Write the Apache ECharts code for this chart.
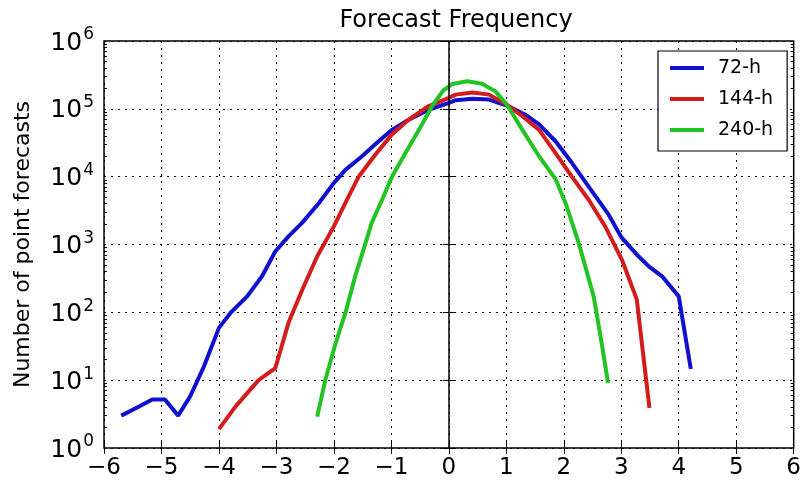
<!DOCTYPE html>
<html>
<head>
<meta charset="utf-8">
<script src="https://cdn.jsdelivr.net/npm/echarts@6/dist/echarts.min.js"></script>
<style>
  html, body { margin: 0; padding: 0; background: #fff; }
  #chart { width: 804px; height: 483px; }
</style>
</head>
<body>
<div id="chart"></div>
<script>
// forecast error bins (x) and counts (y)
const x72 = [-5.70, -5.39, -5.16, -4.94, -4.71, -4.50, -4.26, -4.0, -3.80, -3.51, -3.25, -3.02, -2.79, -2.55, -2.26, -2.0, -1.80, -1.51, -1.28, -0.99, -0.70, -0.35, 0.0, 0.12, 0.41, 0.70, 1.01, 1.33, 1.57, 1.86, 2.14, 2.43, 2.78, 3.01, 3.30, 3.48, 3.71, 4.0, 4.21];
const y72 = [3.0, 4.1, 5.2, 5.2, 3.0, 5.8, 16, 59, 98, 172, 340, 790, 1320, 2100, 4100, 8100, 12600, 20000, 30000, 49000, 69000, 97000, 122000, 134000, 141000, 137000, 112000, 82000, 59000, 33000, 16000, 7200, 2750, 1250, 670, 475, 340, 172, 14.6];

const x144 = [-4.0, -3.71, -3.31, -3.02, -2.79, -2.55, -2.29, -2.0, -1.80, -1.57, -1.28, -0.99, -0.70, -0.35, 0.0, 0.12, 0.41, 0.70, 1.01, 1.28, 1.57, 1.86, 2.14, 2.43, 2.72, 3.01, 3.27, 3.49];
const y144 = [1.9, 4.1, 10, 15, 70, 215, 670, 1850, 4100, 10000, 21000, 42000, 69000, 110000, 145000, 162000, 174000, 162000, 115000, 78000, 49000, 22000, 10000, 4600, 1850, 600, 155, 3.9];

const x240 = [-2.29, -2.15, -1.97, -1.80, -1.63, -1.45, -1.34, -1.16, -0.99, -0.76, -0.52, -0.29, -0.10, 0.06, 0.32, 0.58, 0.81, 1.01, 1.28, 1.57, 1.86, 2.03, 2.26, 2.52, 2.67, 2.77];
const y240 = [2.9, 10, 35, 98, 340, 1050, 2100, 4600, 10000, 22000, 49000, 110000, 185000, 233000, 255000, 235000, 181000, 115000, 49000, 20000, 9100, 4100, 1050, 172, 31, 9.1];

const names = ['72-h', '144-h', '240-h'];
const colors = ['#1010d0', '#d41c1c', '#22c322'];

// log-scale minor tick positions (in decades), like matplotlib's 2..9 subticks
const minorTicks = [];
for (let d = 0; d < 6; d++) {
  for (let k = 2; k <= 9; k++) minorTicks.push(d + Math.log10(k));
}

const pairs = (xs, ys) => xs.map((v, i) => [v, ys[i]]);

const chart = echarts.init(document.getElementById('chart'));
const font = 'DejaVu Sans';

const minorAxis = (pos) => ({
  type: 'value', min: 0, max: 6, position: pos,
  axisLine: { show: false },
  axisTick: { inside: true, length: 3, customValues: minorTicks, lineStyle: { color: '#000' } },
  axisLabel: { show: false },
  splitLine: { show: false }
});

chart.setOption({
  animation: false,
  textStyle: { fontFamily: font },
  title: {
    text: 'Forecast Frequency',
    left: 451, top: 4, textAlign: 'center',
    textStyle: { fontFamily: font, fontSize: 24, fontWeight: 'normal', color: '#000' }
  },
  legend: {
    orient: 'vertical',
    left: 658, top: 51,
    padding: [7, 14, 11, 12],
    itemGap: 11,
    itemWidth: 34, itemHeight: 4,
    icon: 'rect',
    backgroundColor: '#fff',
    borderColor: '#000', borderWidth: 1.2,
    textStyle: { fontFamily: font, fontSize: 19, color: '#000', lineHeight: 20, padding: [0, 0, 0, 9] },
    data: names
  },
  grid: {
    left: 104, right: 8, top: 41, bottom: 35,
    show: true, borderColor: '#000', borderWidth: 1.5
  },
  xAxis: [{
    type: 'value', min: -6, max: 6, interval: 1,
    axisLine: { show: false },
    axisTick: { inside: true, length: 6, lineStyle: { color: '#000' } },
    axisLabel: {
      fontFamily: font, fontSize: 23, color: '#000', margin: 9,
      formatter: v => (v < 0 ? '\u2212' + (-v) : String(v))
    },
    splitLine: { show: true, lineStyle: { color: '#000', type: [2, 5], width: 1 } }
  }, {
    type: 'value', min: -6, max: 6, interval: 1, position: 'top',
    axisLine: { show: false },
    axisTick: { inside: true, length: 6, lineStyle: { color: '#000' } },
    axisLabel: { show: false },
    splitLine: { show: false }
  }],
  yAxis: [{
    type: 'log', logBase: 10, min: 1, max: 1e6, splitNumber: 6,
    name: 'Number of point forecasts',
    nameLocation: 'middle', nameGap: 70, nameRotate: 90,
    nameTextStyle: { fontFamily: font, fontSize: 22, color: '#000' },
    axisLine: { show: false },
    axisTick: { inside: true, length: 6, lineStyle: { color: '#000' } },
    axisLabel: {
      color: '#000', margin: 10,
      formatter: v => '{b|10}{s|' + Math.round(Math.log10(v)) + '}',
      rich: {
        b: { fontFamily: font, fontSize: 25, color: '#000', verticalAlign: 'bottom', lineHeight: 28 },
        s: { fontFamily: font, fontSize: 17, color: '#000', verticalAlign: 'top', padding: [0, 0, 12, 1] }
      }
    },
    splitLine: { show: true, lineStyle: { color: '#000', type: [2, 5], width: 1 } }
  }, {
    type: 'log', logBase: 10, min: 1, max: 1e6, splitNumber: 6, position: 'right',
    axisLine: { show: false },
    axisTick: { inside: true, length: 6, lineStyle: { color: '#000' } },
    axisLabel: { show: false },
    splitLine: { show: false }
  }, minorAxis('left'), minorAxis('right')],
  series: [
    { name: names[0], type: 'line', data: pairs(x72, y72), showSymbol: false, symbol: 'none',
      lineStyle: { width: 4, color: colors[0] }, itemStyle: { color: colors[0] },
      markLine: {
        silent: true, symbol: 'none', label: { show: false },
        lineStyle: { color: '#000', type: 'solid', width: 1.5 },
        data: [{ xAxis: 0 }]
      }
    },
    { name: names[1], type: 'line', data: pairs(x144, y144), showSymbol: false, symbol: 'none',
      lineStyle: { width: 4, color: colors[1] }, itemStyle: { color: colors[1] } },
    { name: names[2], type: 'line', data: pairs(x240, y240), showSymbol: false, symbol: 'none',
      lineStyle: { width: 4, color: colors[2] }, itemStyle: { color: colors[2] } }
  ]
});
</script>
</body>
</html>
